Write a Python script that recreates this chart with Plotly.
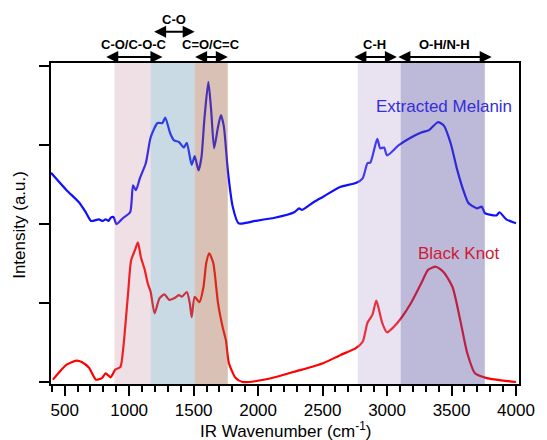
import plotly.graph_objects as go

# Extracted Melanin spectrum (offset trace)
melanin_wn = [394, 515, 614, 667, 705, 765, 795, 818, 841, 856, 879, 902, 955, 1008, 1030, 1053, 1083, 1129,
              1167, 1220, 1258, 1280, 1318, 1348, 1386, 1424, 1447, 1485, 1508, 1538, 1561, 1583, 1614, 1636,
              1659, 1689, 1712, 1735, 1765, 1803, 1848, 1977, 2129, 2280, 2318, 2341, 2432, 2508, 2636, 2758,
              2811, 2848, 2871, 2924, 2947, 2977, 3000, 3091, 3189, 3265, 3326, 3394, 3439, 3492, 3545, 3591,
              3629, 3659, 3697, 3735, 3758, 3848, 3871, 3924, 4000]
melanin_int = [2.65, 2.43, 2.27, 2.14, 2.04, 2.06, 2.04, 2.06, 2.04, 2.08, 2.09, 2.00, 2.08, 2.15, 2.49, 2.43,
               2.58, 2.77, 3.10, 3.28, 3.28, 3.35, 3.15, 3.06, 3.04, 2.97, 3.03, 2.75, 2.86, 2.68, 2.85, 3.32,
               3.80, 3.44, 2.96, 3.23, 3.38, 3.23, 2.68, 2.22, 2.01, 2.04, 2.08, 2.15, 2.20, 2.18, 2.28, 2.35,
               2.47, 2.52, 2.58, 2.77, 2.78, 3.08, 2.96, 2.97, 2.87, 3.00, 3.10, 3.16, 3.19, 3.29, 3.25, 3.03,
               2.68, 2.43, 2.27, 2.23, 2.20, 2.22, 2.14, 2.11, 2.15, 2.06, 2.01]

# Black Knot spectrum
knot_wn = [409, 515, 591, 636, 689, 742, 788, 818, 856, 894, 932, 955, 992, 1015, 1045, 1068, 1091, 1121,
           1144, 1167, 1197, 1235, 1273, 1311, 1348, 1386, 1409, 1447, 1470, 1485, 1508, 1545, 1576, 1598,
           1621, 1652, 1689, 1727, 1750, 1773, 1826, 1879, 1977, 2129, 2280, 2432, 2508, 2636, 2758, 2811,
           2848, 2886, 2917, 2962, 3000, 3053, 3114, 3189, 3265, 3318, 3379, 3439, 3508, 3568, 3621, 3682,
           3773, 4000]
knot_int = [0.03, 0.22, 0.27, 0.25, 0.18, 0.03, 0.05, 0.11, 0.06, 0.16, 0.19, 0.44, 1.13, 1.54, 1.67, 1.77,
            1.58, 1.42, 1.25, 1.14, 0.87, 1.06, 1.11, 1.04, 1.06, 1.10, 1.08, 1.14, 1.00, 0.82, 1.08, 1.01,
            1.20, 1.51, 1.63, 1.51, 1.00, 0.68, 0.53, 0.24, 0.05, 0.00, 0.01, 0.06, 0.13, 0.20, 0.24, 0.34,
            0.43, 0.51, 0.75, 0.85, 1.03, 0.75, 0.63, 0.70, 0.82, 1.01, 1.25, 1.42, 1.46, 1.39, 1.20, 0.78,
            0.37, 0.11, 0.05, 0.00]

# Shaded functional-group bands
band_starts = [886, 1167, 1508, 2773, 3106]
band_ends = [1167, 1508, 1765, 3106, 3758]
band_colors = ["rgba(190,130,150,0.25)", "rgba(100,150,180,0.35)", "rgba(160,100,70,0.40)",
               "rgba(180,160,210,0.30)", "rgba(90,80,160,0.40)"]

# Arrow labels
arrow_labels = ["C-O/C-O-C", "C-O", "C=O/C=C", "C-H", "O-H/N-H"]
arrow_starts = [811, 1182, 1500, 2735, 3076]
arrow_ends = [1258, 1508, 1765, 3076, 3811]
arrow_levels = [1.019, 1.097, 1.019, 1.019, 1.019]

x_ticks = [500, 1000, 1500, 2000, 2500, 3000, 3500, 4000]
y_ticks = [0, 1, 2, 3, 4]

FONT = "Liberation Sans, Arial, Helvetica, sans-serif"

fig = go.Figure()
fig.add_trace(go.Scatter(x=knot_wn, y=knot_int, mode="lines",
                         line=dict(color="#ff0000", width=2.2, shape="spline", smoothing=0.6),
                         name="Black Knot", showlegend=False))
fig.add_trace(go.Scatter(x=melanin_wn, y=melanin_int, mode="lines",
                         line=dict(color="#1010ff", width=2.2, shape="spline", smoothing=0.6),
                         name="Extracted Melanin", showlegend=False))

for s, e, c in zip(band_starts, band_ends, band_colors):
    fig.add_shape(type="rect", xref="x", yref="paper", x0=s, x1=e, y0=0, y1=1,
                  fillcolor=c, line=dict(width=0), layer="above")

for lab, s, e, lv in zip(arrow_labels, arrow_starts, arrow_ends, arrow_levels):
    fig.add_annotation(x=e, y=lv, xref="x", yref="paper", ax=s, ay=0, axref="x", ayref="pixel",
                       showarrow=True, arrowhead=2, arrowside="end+start", arrowsize=1.2,
                       arrowwidth=2, arrowcolor="black", text="")
    fig.add_annotation(x=(s + e) / 2, y=lv + 0.038, xref="x", yref="paper", text="<b>" + lab + "</b>",
                       showarrow=False, font=dict(family=FONT, size=13, color="black"),
                       xanchor="center", yanchor="middle")

fig.add_annotation(x=3439, y=3.49, xref="x", yref="y", text="Extracted Melanin", showarrow=False,
                   font=dict(family=FONT, size=17, color="rgb(55,45,215)"), xanchor="center", yanchor="middle")
fig.add_annotation(x=3557, y=1.63, xref="x", yref="y", text="Black Knot", showarrow=False,
                   font=dict(family=FONT, size=17, color="rgb(205,25,55)"), xanchor="center", yanchor="middle")

fig.add_annotation(x=0.5, y=-0.143, xref="paper", yref="paper", text="IR Wavenumber (cm<sup>-1</sup>)",
                   showarrow=False, font=dict(family=FONT, size=17, color="black"),
                   xanchor="center", yanchor="middle")
fig.add_annotation(x=-0.069, y=0.495, xref="paper", yref="paper", text="Intensity (a.u.)", textangle=-90,
                   showarrow=False, font=dict(family=FONT, size=17, color="black"),
                   xanchor="center", yanchor="middle")

fig.update_xaxes(range=[394, 4023], tickvals=x_ticks, ticks="outside", ticklen=10, tickwidth=1.5,
                 tickcolor="black", showline=True, linecolor="black", linewidth=2, mirror=True,
                 showgrid=False, zeroline=False, tickfont=dict(family=FONT, size=17, color="black"),
                 minor=dict(dtick=100, ticks="outside", ticklen=6, tickwidth=1.5, tickcolor="black",
                            showgrid=False))
fig.update_yaxes(range=[-0.025, 4.04], tickvals=y_ticks, ticks="outside", ticklen=10, tickwidth=1.5,
                 tickcolor="black", showticklabels=False, showline=True, linecolor="black", linewidth=2,
                 mirror=True, showgrid=False, zeroline=False)

fig.update_layout(width=547, height=440, margin=dict(l=51, r=17, t=63, b=56),
                  plot_bgcolor="white", paper_bgcolor="white", showlegend=False)

fig.write_html("out.html", config={"displayModeBar": False},
               post_script="document.body.style.margin='0';document.body.style.overflow='hidden';")
